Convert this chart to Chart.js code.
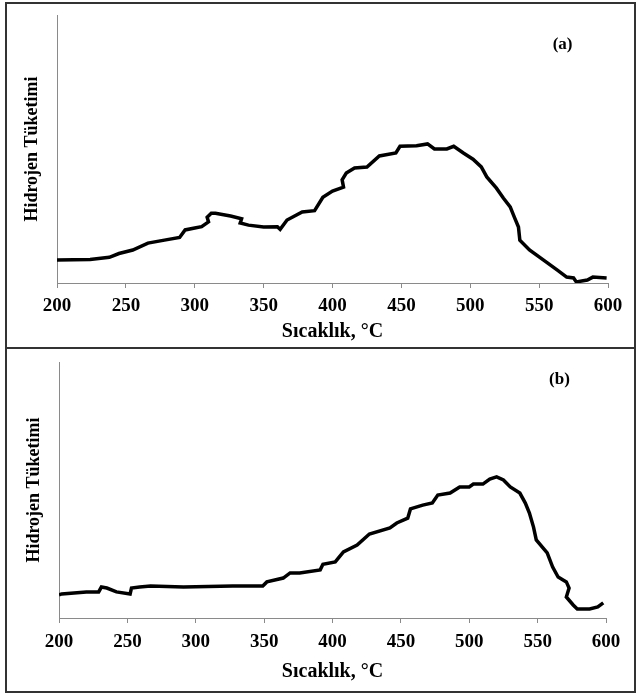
<!DOCTYPE html>
<html lang="tr">
<head>
<meta charset="UTF-8">
<title>Hidrojen Tüketimi</title>
<script src="https://cdn.jsdelivr.net/npm/chart.js@4/dist/chart.umd.min.js"></script>
<style>
    body {
        margin: 0;
        background: #fff;
    }
    .panel {
        position: absolute;
        border: 2px solid #333;
        box-sizing: border-box;
    }
    canvas {
        position: absolute;
        left: 0;
    }
</style>
</head>
<body>
<div class="panel" style="left:5px; top:2px; width:631px; height:347px;"></div>
<div class="panel" style="left:5px; top:347px; width:631px; height:346px;"></div>
<canvas id="chartA" width="637" height="347" style="top:0px;"></canvas>
<canvas id="chartB" width="637" height="345" style="top:347px;"></canvas>
<script>
// (a) sample
const tempA = [200, 224, 238, 245, 255, 266, 278, 289, 293, 300,
    305, 310, 309, 312, 315, 326, 334, 333, 339, 350,
    360, 362, 367, 378, 387, 393, 400, 408, 407, 410,
    416, 425, 434, 446, 449, 461, 469, 474, 483, 488,
    495, 502, 508, 512, 519, 524, 529, 532, 535, 536,
    543, 553, 563, 570, 575, 577, 585, 589, 599];
const h2A = [8.6, 8.8, 9.6, 11, 12.3, 14.9, 16, 17, 19.8, 20.5,
    21, 22.8, 24.5, 26, 26, 25, 24, 22.4, 21.6, 20.9,
    21, 20, 23.5, 26.5, 27, 32, 34.3, 35.8, 38.5, 41,
    42.9, 43.3, 47.4, 48.5, 51, 51.2, 51.9, 50, 50, 51,
    48.5, 46.2, 43.3, 39.6, 35.4, 31.7, 28.4, 24.6, 20.9, 16,
    12.3, 8.6, 4.9, 2.2, 1.9, 0.4, 1.1, 2.2, 1.9];

// (b) sample
const tempB = [200, 202, 220, 229, 231, 235, 242, 252, 253, 259,
    267, 291, 327, 349, 352, 364, 369, 376, 391, 393,
    402, 408, 418, 427, 442, 447, 455, 457, 466, 473,
    477, 486, 493, 500, 503, 510, 515, 520, 525, 530,
    537, 541, 544, 547, 549, 557, 561, 565, 571, 573,
    571, 576, 579, 588, 594, 598];
const h2B = [9.0, 9.4, 10.2, 10.2, 12.1, 11.7, 10.2, 9.4, 11.7, 12.1,
    12.5, 12.1, 12.5, 12.5, 14.1, 15.6, 17.6, 17.6, 18.8, 21,
    21.9, 25.8, 28.5, 32.8, 35.2, 37.1, 39, 42.6, 44.1, 44.9,
    48, 48.8, 51.2, 51.2, 52.3, 52.3, 54.3, 55.1, 53.9, 51.2,
    48.8, 44.9, 41, 35.5, 30.5, 25.4, 19.9, 16, 14.1, 11.7,
    8.2, 5.1, 3.5, 3.5, 4.3, 5.9];

const xTitle = 'Sıcaklık, °C';
const yTitle = 'Hidrojen Tüketimi';

const axisGray = '#8a8a8a';
const serif = 'Liberation Serif';

// panel letter, placed in data coordinates
const panelLabel = {
    id: 'panelLabel',
    afterDraw(chart, args, opts) {
        const ctx = chart.ctx;
        const x = chart.scales.x.getPixelForValue(opts.at[0]);
        const y = chart.scales.y.getPixelForValue(opts.at[1]);
        ctx.save();
        ctx.font = 'bold 17px "' + serif + '"';
        ctx.fillStyle = '#000';
        ctx.textAlign = 'center';
        ctx.textBaseline = 'middle';
        ctx.fillText(opts.text, x, y);
        ctx.restore();
    }
};

function makeChart(id, temps, values, cfg) {
    const points = temps.map((t, i) => ({ x: t, y: values[i] }));
    return new Chart(document.getElementById(id), {
        type: 'line',
        data: {
            datasets: [{
                data: points,
                borderColor: '#000',
                borderWidth: 3.5,
                pointRadius: 0,
                tension: 0,
                fill: false
            }]
        },
        options: {
            responsive: false,
            animation: false,
            layout: {
                padding: { top: 15, right: cfg.right, left: 0, bottom: 0 }
            },
            plugins: {
                legend: { display: false },
                tooltip: { enabled: false },
                panelLabel: { text: cfg.label, at: cfg.labelAt }
            },
            scales: {
                x: {
                    type: 'linear',
                    min: 200,
                    max: 600,
                    ticks: {
                        stepSize: 50,
                        padding: cfg.tickPad,
                        color: '#000',
                        font: { family: serif, size: 19, weight: 'bold' }
                    },
                    grid: {
                        drawOnChartArea: false,
                        drawTicks: true,
                        tickLength: 5,
                        color: axisGray
                    },
                    border: { color: axisGray, width: 1 },
                    title: {
                        display: true,
                        text: xTitle,
                        color: '#000',
                        font: { family: serif, size: 20, weight: 'bold' },
                        padding: { top: 0, bottom: cfg.xTitlePad }
                    },
                    afterFit(scale) { scale.height = cfg.xHeight; }
                },
                y: {
                    min: 0,
                    max: 100,
                    ticks: { display: false },
                    grid: { display: false },
                    border: { display: true, color: axisGray, width: 1 },
                    title: {
                        display: true,
                        text: yTitle,
                        color: '#000',
                        font: { family: serif, size: 18, weight: 'bold' },
                        padding: { top: cfg.yTitlePad, bottom: 0 }
                    },
                    afterFit(scale) { scale.width = cfg.yWidth; }
                }
            }
        },
        plugins: [panelLabel]
    });
}

makeChart('chartA', tempA, h2A, {
    right: 29, yWidth: 57, xHeight: 64, tickPad: 7,
    xTitlePad: 3, yTitlePad: 22,
    label: '(a)', labelAt: [567, 88.8]
});

makeChart('chartB', tempB, h2B, {
    right: 31, yWidth: 59, xHeight: 74, tickPad: 8,
    xTitlePad: 8, yTitlePad: 24,
    label: '(b)', labelAt: [566, 93]
});
</script>
</body>
</html>
